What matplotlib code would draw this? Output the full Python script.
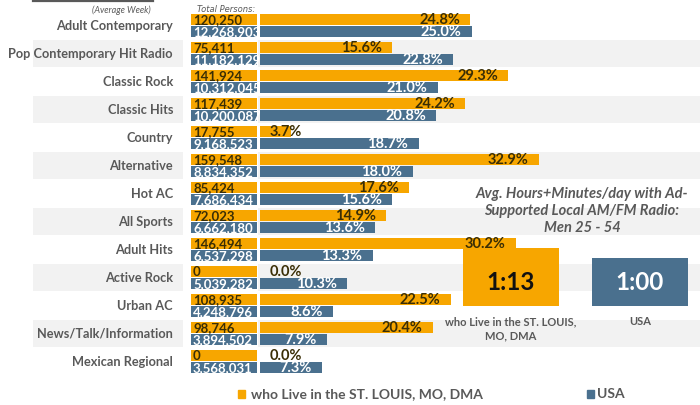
import matplotlib
matplotlib.use("Agg")
import matplotlib.pyplot as plt
from matplotlib.patches import Rectangle

# ---- data -------------------------------------------------------------
formats = ["Adult Contemporary", "Pop Contemporary Hit Radio", "Classic Rock",
           "Classic Hits", "Country", "Alternative", "Hot AC", "All Sports",
           "Adult Hits", "Active Rock", "Urban AC", "News/Talk/Information",
           "Mexican Regional"]
local_persons = [120250, 75411, 141924, 117439, 17755, 159548, 85424, 72023,
                 146494, 0, 108935, 98746, 0]
usa_persons = [12268903, 11182129, 10312045, 10200087, 9168523, 8834352,
               7686434, 6662180, 6537298, 5039282, 4248796, 3894502, 3568031]
local_pct = [24.8, 15.6, 29.3, 24.2, 3.7, 32.9, 17.6, 14.9, 30.2, 0.0, 22.5,
             20.4, 0.0]
usa_pct = [25.0, 22.8, 21.0, 20.8, 18.7, 18.0, 15.6, 13.6, 13.3, 10.3, 8.6,
           7.9, 7.3]
time_groups = ["who Live in the ST. LOUIS,\nMO, DMA", "USA"]
time_minutes = [73, 60]
legend_labels = ["who Live in the ST. LOUIS, MO, DMA", "USA"]
panel_title = "Avg. Hours+Minutes/day with Ad-\nSupported Local AM/FM Radio:\nMen 25 - 54"

# ---- style ------------------------------------------------------------
ORANGE = "#F7A600"
BLUE = "#4A708E"
BAND = "#F2F2F2"
GREY_TXT = "#595959"
DARK_TXT = "#3a2e05"
FONT = ["Lato", "DejaVu Sans"]
plt.rcParams["font.family"] = FONT

W, H = 700, 405
fig = plt.figure(figsize=(W / 100, H / 100), dpi=100)
fig.patch.set_facecolor("white")


def fx(px):
    return px / W


def fy(py):
    return 1 - py / H


n = len(formats)
rows = list(range(n))
pitch = 28.0
top_px = 25.5 - pitch / 2
bot_px = top_px + pitch * n
OFF = 0.2
BH = 0.39

# background: row bands, category labels, count boxes (x in pixels, y in rows)
ax_bg = fig.add_axes([0, fy(bot_px), 1, (bot_px - top_px) / H])
ax_bg.set_xlim(0, W)
ax_bg.set_ylim(n - 0.5, -0.5)
ax_bg.axis("off")

band_rows = [i for i in rows if i % 2 == 1]
ax_bg.barh(band_rows, 150, left=33, height=0.93, color=BAND, zorder=0)
ax_bg.barh(band_rows, 442, left=258, height=0.93, color=BAND, zorder=0)

for i, name in enumerate(formats):
    ax_bg.text(173, i, name, ha="right", va="center", fontsize=9.2,
               fontweight="bold", color=GREY_TXT)

obars = ax_bg.barh([i - OFF for i in rows], 66, left=191, height=BH,
                   color=ORANGE, zorder=2)
bbars = ax_bg.barh([i + OFF for i in rows], 66, left=191, height=BH,
                   color=BLUE, zorder=2)
for i in rows:
    t = ax_bg.text(193, i - OFF, f"{local_persons[i]:,}", ha="left",
                   va="center", fontsize=9.5, fontweight="bold",
                   color=DARK_TXT, zorder=3)
    t.set_clip_path(obars.patches[i])
    t = ax_bg.text(193, i + OFF + 0.02, f"{usa_persons[i]:,}", ha="left",
                   va="center", fontsize=9.5, fontweight="bold",
                   color="white", zorder=3)
    t.set_clip_path(bbars.patches[i])

# header texts
fig.text(fx(151), fy(10), "(Average Week)", ha="right", va="center",
         fontsize=6.5, style="italic", color=GREY_TXT)
fig.text(fx(197), fy(9), "Total Persons:", ha="left", va="center",
         fontsize=6, style="italic", color=GREY_TXT,
         family=["DejaVu Sans"])
fig.add_artist(plt.Line2D([fx(33), fx(153)], [fy(1), fy(1)],
                          color=GREY_TXT, lw=1.6))

# percentage bars
px_per_pct = 8.48
ax = fig.add_axes([fx(260), fy(bot_px), 440 / W, (bot_px - top_px) / H])
ax.set_xlim(0, 440 / px_per_pct)
ax.set_ylim(n - 0.5, -0.5)
ax.axis("off")
ax.patch.set_alpha(0)
ax.barh([i - OFF for i in rows], local_pct, height=BH, color=ORANGE)
ax.barh([i + OFF for i in rows], usa_pct, height=BH, color=BLUE)


def pct_label(val, y, color):
    if val * px_per_pct > 45:
        ax.annotate(f"{val:.1f}%", (val, y), xytext=(-7.5, 0),
                    textcoords="offset points", ha="right", va="center",
                    fontsize=10.5, fontweight="bold", color=color)
    else:
        ax.annotate(f"{val:.1f}%", (0, y), xytext=(7.2, 0),
                    textcoords="offset points", ha="left", va="center",
                    fontsize=10.5, fontweight="bold", color=DARK_TXT)


for i in rows:
    pct_label(local_pct[i], i - OFF, DARK_TXT)
    pct_label(usa_pct[i], i + OFF + 0.02, "white")

# time-spent column chart
px_per_min = 58 / 73
ymax = 90
ax2 = fig.add_axes([fx(446.5), fy(306), 258 / W, ymax * px_per_min / H])
ax2.set_xlim(-0.5, 1.5)
ax2.set_ylim(0, ymax)
ax2.axis("off")
ax2.patch.set_alpha(0)
ax2.bar([0, 1], time_minutes, width=96 / 129, color=[ORANGE, BLUE], zorder=3)
for i, m in enumerate(time_minutes):
    ax2.text(i, 30, f"{m // 60}:{m % 60:02d}", ha="center", va="center",
             fontsize=17.5, fontweight="bold",
             color="#111111" if i == 0 else "white", zorder=4)
    ax2.annotate(time_groups[i], (i, 0), xytext=(0, -7.5),
                 textcoords="offset points", ha="center", va="top",
                 fontsize=8, fontweight="bold", color=GREY_TXT,
                 linespacing=1.3, annotation_clip=False)

fig.text(fx(582), fy(211), panel_title, ha="center", va="center",
         fontsize=10.5, fontweight="bold", style="italic", color=GREY_TXT,
         linespacing=1.3)

# legend
for sq_x, txt_x, col, lab in [(238, 251, ORANGE, legend_labels[0]),
                              (587, 597, BLUE, legend_labels[1])]:
    fig.add_artist(Rectangle((fx(sq_x), fy(398)), 7 / W, 8 / H,
                             transform=fig.transFigure, color=col))
    fig.text(fx(txt_x), fy(394), lab, ha="left", va="center", fontsize=10,
             fontweight="bold", color=GREY_TXT)

fig.savefig("out.png", dpi=100)
